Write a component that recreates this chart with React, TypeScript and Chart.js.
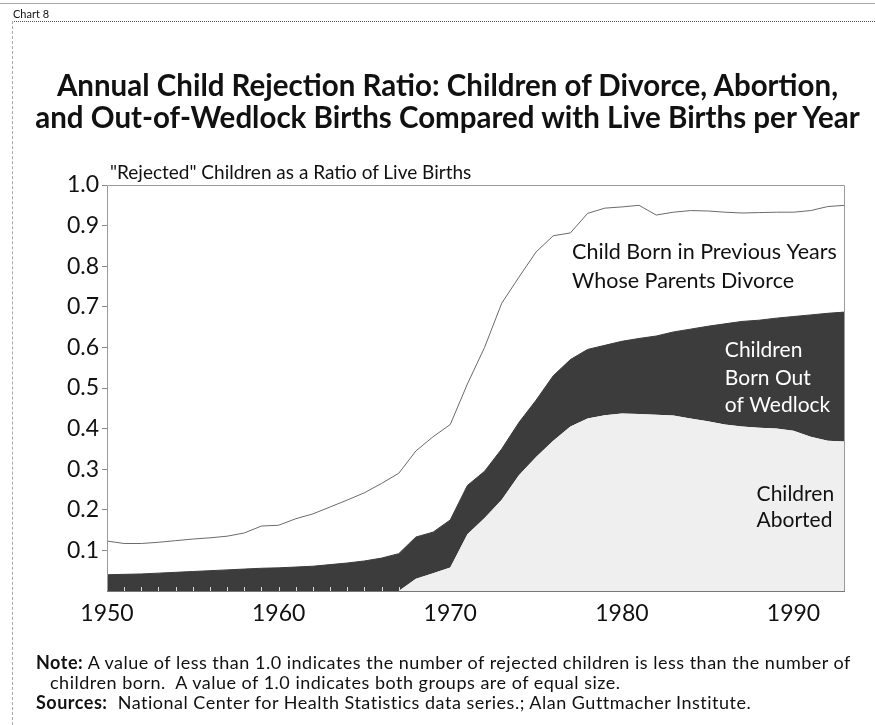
import React, { useEffect, useRef } from 'react';
import { Chart, registerables } from 'chart.js';

Chart.register(...registerables);

// ---------- data ----------
const years = [
  1950, 1951, 1952, 1953, 1954, 1955, 1956, 1957, 1958, 1959,
  1960, 1961, 1962, 1963, 1964, 1965, 1966, 1967, 1968, 1969,
  1970, 1971, 1972, 1973, 1974, 1975, 1976, 1977, 1978, 1979,
  1980, 1981, 1982, 1983, 1984, 1985, 1986, 1987, 1988, 1989,
  1990, 1991, 1992, 1993,
];

// Children aborted, ratio to live births
const aborted = [
  0, 0, 0, 0, 0, 0, 0, 0, 0, 0,
  0, 0, 0, 0, 0, 0, 0, 0, 0.03, 0.044,
  0.058, 0.14, 0.18, 0.225, 0.285, 0.33, 0.37, 0.405, 0.425, 0.433,
  0.437, 0.436, 0.434, 0.432, 0.425, 0.418, 0.41, 0.405, 0.402, 0.4,
  0.395, 0.38, 0.37, 0.368,
];

// Children born out of wedlock, ratio to live births
const outOfWedlock = [
  0.04, 0.041, 0.042, 0.044, 0.046, 0.048, 0.05, 0.052, 0.054, 0.056,
  0.057, 0.059, 0.061, 0.065, 0.069, 0.074, 0.081, 0.092, 0.103, 0.101,
  0.117, 0.12, 0.115, 0.125, 0.13, 0.14, 0.16, 0.165, 0.17, 0.172,
  0.178, 0.186, 0.194, 0.206, 0.22, 0.234, 0.248, 0.259, 0.265, 0.272,
  0.281, 0.3, 0.314, 0.319,
];

// Children born in previous years whose parents divorce (cumulative ratio line)
const divorce = [
  0.123, 0.117, 0.117, 0.12, 0.124, 0.128, 0.131, 0.135, 0.143, 0.16,
  0.162, 0.178, 0.19, 0.207, 0.224, 0.242, 0.265, 0.29, 0.345, 0.38,
  0.41, 0.51, 0.6, 0.709, 0.773, 0.835, 0.875, 0.882, 0.93, 0.943,
  0.946, 0.95, 0.926, 0.933, 0.937, 0.936, 0.933, 0.931, 0.932, 0.933,
  0.933, 0.937, 0.947, 0.95,
];

const yTicks = [0.1, 0.2, 0.3, 0.4, 0.5, 0.6, 0.7, 0.8, 0.9, 1.0];
const xTicks = [1950, 1960, 1970, 1980, 1990];

const titleLines = [
  'Annual Child Rejection Ratio: Children of Divorce, Abortion,',
  'and Out-of-Wedlock Births Compared with Live Births per Year',
];
const yAxisTitle = '"Rejected" Children as a Ratio of Live Births';
const divorceLabel = ['Child Born in Previous Years', 'Whose Parents Divorce'];
const wedlockLabel = ['Children', 'Born Out', 'of Wedlock'];
const abortedLabel = ['Children', 'Aborted'];

const FONT = 'Lato, "Open Sans", sans-serif';

const framePlugin = {
  id: 'frameAndLabels',
  afterDatasetsDraw(chart: any) {
    const { ctx, chartArea: a, scales } = chart;
    const xs = scales.x;
    const ys = scales.y;
    ctx.save();
    // frame
    ctx.strokeStyle = '#9a9a9a';
    ctx.lineWidth = 1;
    ctx.beginPath();
    ctx.moveTo(a.left + 0.5, a.bottom);
    ctx.lineTo(a.left + 0.5, a.top + 0.5);
    ctx.lineTo(a.right - 0.5, a.top + 0.5);
    ctx.lineTo(a.right - 0.5, a.bottom);
    ctx.stroke();
    ctx.strokeStyle = '#777';
    ctx.beginPath();
    ctx.moveTo(a.left, a.bottom + 0.5);
    ctx.lineTo(a.right, a.bottom + 0.5);
    ctx.stroke();
    // small inward year ticks
    ctx.strokeStyle = '#d8d8d8';
    for (const yr of years) {
      if (yr <= 1950 || yr >= 1968) continue;
      const px = Math.round(xs.getPixelForValue(yr)) + 0.5;
      ctx.beginPath();
      ctx.moveTo(px, a.bottom);
      ctx.lineTo(px, a.bottom - 4);
      ctx.stroke();
    }
    // annotations
    ctx.textBaseline = 'middle';
    ctx.textAlign = 'left';
    ctx.fillStyle = '#111';
    ctx.font = `21.5px ${FONT}`;
    const dx = xs.getPixelForValue(1977.1);
    ctx.fillText(divorceLabel[0], dx, ys.getPixelForValue(0.835));
    ctx.fillText(divorceLabel[1], dx, ys.getPixelForValue(0.763));

    ctx.fillStyle = '#ffffff';
    ctx.font = `21px ${FONT}`;
    const wx = xs.getPixelForValue(1986.0);
    const wy = [0.593, 0.523, 0.457];
    wedlockLabel.forEach((t, i) => ctx.fillText(t, wx, ys.getPixelForValue(wy[i])));

    ctx.fillStyle = '#111';
    const ax = xs.getPixelForValue(1987.85);
    ctx.fillText(abortedLabel[0], ax, ys.getPixelForValue(0.239));
    ctx.fillText(abortedLabel[1], ax, ys.getPixelForValue(0.175));
    ctx.restore();
  },
};

export default function App() {
  const canvasRef = useRef<HTMLCanvasElement | null>(null);

  useEffect(() => {
    document.body.style.margin = '0';
    const canvas = canvasRef.current;
    if (!canvas) return;
    const pts = (arr: number[]) => years.map((x, i) => ({ x, y: arr[i] }));
    const chart = new Chart(canvas, {
      type: 'line',
      data: {
        datasets: [
          {
            label: 'Children Aborted',
            data: pts(aborted),
            stack: 'births',
            fill: 'origin',
            backgroundColor: '#efefef',
            borderColor: 'rgba(0,0,0,0)',
            borderWidth: 0,
            pointRadius: 0,
            tension: 0,
          },
          {
            label: 'Children Born Out of Wedlock',
            data: pts(outOfWedlock),
            stack: 'births',
            fill: '-1',
            backgroundColor: '#3c3c3c',
            borderColor: '#3c3c3c',
            borderWidth: 1,
            pointRadius: 0,
            tension: 0,
          },
          {
            label: 'Child Born in Previous Years Whose Parents Divorce',
            data: pts(divorce),
            stack: 'divorce',
            fill: false,
            borderColor: '#6a6a6a',
            borderWidth: 1,
            pointRadius: 0,
            tension: 0,
          },
        ],
      },
      options: {
        animation: false,
        responsive: false,
        devicePixelRatio: 1,
        layout: { padding: { top: 185, right: 30, bottom: 0, left: 0 } },
        plugins: {
          legend: { display: false },
          title: { display: false },
          tooltip: { enabled: false },
        },
        scales: {
          x: {
            type: 'linear',
            min: 1950,
            max: 1993,
            grid: { display: false },
            border: { display: false },
            afterBuildTicks: (s: any) => {
              s.ticks = xTicks.map((v) => ({ value: v }));
            },
            afterFit: (s: any) => {
              s.height = 725 - 591;
            },
            ticks: {
              color: '#111',
              padding: 1,
              maxRotation: 0,
              autoSkip: false,
              font: { family: FONT, size: 23 },
              callback: (v: any) => String(v),
            },
          },
          y: {
            stacked: true,
            min: 0,
            max: 1,
            grid: { drawOnChartArea: false, drawTicks: true, tickLength: 5, color: '#888' },
            border: { display: false },
            afterBuildTicks: (s: any) => {
              s.ticks = yTicks.map((v) => ({ value: v }));
            },
            afterFit: (s: any) => {
              s.width = 107;
            },
            ticks: {
              color: '#111',
              padding: 3,
              autoSkip: false,
              font: { family: FONT, size: 23 },
              callback: (v: any) => Number(v).toFixed(1),
            },
          },
        },
      },
      plugins: [framePlugin],
    });
    return () => chart.destroy();
  }, []);

  const abs = (s: React.CSSProperties): React.CSSProperties => ({ position: 'absolute', ...s });

  return (
    <div style={{ position: 'relative', width: 875, height: 725, background: '#fff', overflow: 'hidden', fontFamily: FONT, color: '#111' }}>
      <canvas ref={canvasRef} width={875} height={725} style={abs({ left: 0, top: 0, width: 875, height: 725 })} />
      <div style={abs({ left: 0, top: 3, width: 875, height: 1, background: '#aaa' })} />
      <div style={abs({ left: 12, top: 21, width: 863, height: 0, borderTop: '1px dotted #555' })} />
      <div style={abs({ left: 12, top: 21, width: 0, height: 704, borderLeft: '1px dashed #aaa' })} />
      <div style={abs({ left: 13, top: 7, fontSize: 11, lineHeight: '13px', fontFamily: '"Liberation Sans Narrow", Lato, sans-serif' })}>Chart 8</div>
      <div style={abs({ left: 10, top: 69, width: 875, textAlign: 'center', fontWeight: 700, fontSize: 29.5, lineHeight: '32px', whiteSpace: 'nowrap' })}>
        {titleLines.map((t, i) => (<div key={i}>{t}</div>))}
      </div>
      <div style={abs({ left: 110, top: 161, fontSize: 19, lineHeight: '22px', whiteSpace: 'nowrap' })}>{yAxisTitle}</div>
      <div style={abs({ left: 36, top: 652, fontSize: 18, letterSpacing: '0.5px', lineHeight: '20px', whiteSpace: 'nowrap' })}>
        <div><b>Note:</b> A value of less than 1.0 indicates the number of rejected children is less than the number of</div>
        <div style={{ paddingLeft: 14 }}>children born.&nbsp; A value of 1.0 indicates both groups are of equal size.</div>
        <div><b>Sources:</b>&nbsp; National Center for Health Statistics data series.; Alan Guttmacher Institute.</div>
      </div>
    </div>
  );
}
